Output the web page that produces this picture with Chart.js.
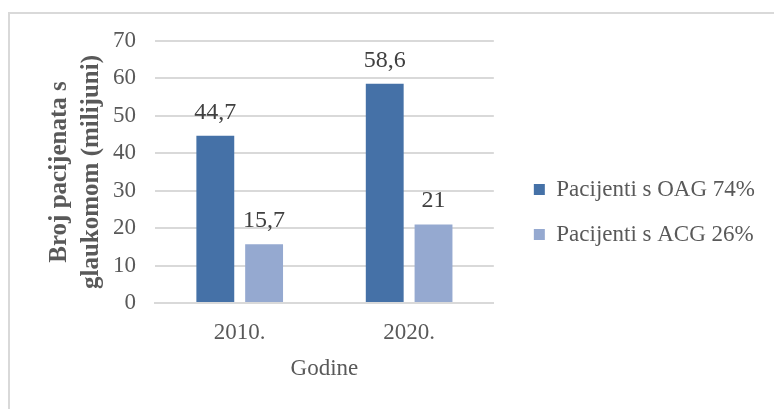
<!DOCTYPE html>
<html>
<head>
<meta charset="utf-8">
<script src="https://cdn.jsdelivr.net/npm/chart.js@4/dist/chart.umd.min.js"></script>
<style>
    html, body { margin: 0; padding: 0; background: #fff; }
    #wrap { position: relative; width: 774px; height: 409px; overflow: hidden; }
    #frame { position: absolute; left: 8px; top: 12px; width: 800px; height: 420px;
             border: 2px solid #d9d9d9; pointer-events: none; }
</style>
</head>
<body>
<div id="wrap">
    <canvas id="glaukomChart" width="774" height="409"></canvas>
    <div id="frame"></div>
</div>
<script>
const godine = ['2010.', '2020.'];
const oag = [44.7, 58.6];
const acg = [15.7, 21];
const nazivi = ['Pacijenti s OAG 74%', 'Pacijenti s ACG 26%'];
const yTicks = [0, 10, 20, 30, 40, 50, 60, 70];

const serif = "'Liberation Serif', 'Times New Roman', serif";
const textColor = '#595959';

// upisuje vrijednosti iznad stupaca
const valueLabels = {
    id: 'valueLabels',
    afterDatasetsDraw(chart) {
        const ctx = chart.ctx;
        ctx.save();
        ctx.font = '24px ' + serif;
        ctx.fillStyle = '#404040';
        ctx.textAlign = 'center';
        ctx.textBaseline = 'alphabetic';
        chart.data.datasets.forEach((ds, i) => {
            chart.getDatasetMeta(i).data.forEach((bar, j) => {
                const txt = String(ds.data[j]).replace('.', ',');
                ctx.fillText(txt, bar.x, bar.y - 17);
            });
        });
        ctx.restore();
    }
};

const data = {
    labels: godine,
    datasets: [
        {
            label: nazivi[0],
            data: oag,
            backgroundColor: '#4571a7',
            categoryPercentage: 0.576,
            barPercentage: 0.776
        },
        {
            label: nazivi[1],
            data: acg,
            backgroundColor: '#95a9d0',
            categoryPercentage: 0.576,
            barPercentage: 0.776
        }
    ]
};

const config = {
    type: 'bar',
    data: data,
    plugins: [valueLabels],
    options: {
        responsive: false,
        animation: false,
        layout: {
            padding: { left: 30, right: 9, top: 41, bottom: 26 }
        },
        plugins: {
            tooltip: { enabled: false },
            legend: {
                position: 'right',
                align: 'center',
                maxWidth: 300,
                labels: {
                    boxWidth: 11,
                    boxHeight: 11,
                    padding: 22,
                    color: textColor,
                    font: { family: serif, size: 23 }
                }
            }
        },
        scales: {
            x: {
                afterFit(scale) {
                    scale.height = 80;
                },
                grid: { display: false, drawTicks: false },
                border: { display: true, color: '#d9d9d9', width: 2 },
                ticks: {
                    color: textColor,
                    padding: 16,
                    font: { family: serif, size: 23 }
                },
                title: {
                    display: true,
                    text: 'Godine',
                    color: textColor,
                    padding: { top: 0, bottom: 0 },
                    font: { family: serif, size: 23 }
                }
            },
            y: {
                min: 0,
                max: 70,
                afterBuildTicks(scale) {
                    scale.ticks = yTicks.map(v => ({ value: v }));
                },
                afterFit(scale) {
                    scale.width = 125;
                },
                grid: { color: '#d9d9d9', lineWidth: 2, drawTicks: false },
                border: { display: false },
                ticks: {
                    color: textColor,
                    padding: 19,
                    font: { family: serif, size: 23 }
                },
                title: {
                    display: true,
                    text: ['Broj pacijenata s', 'glaukomom (milijuni)'],
                    color: textColor,
                    padding: { top: 14, bottom: 0 },
                    font: { family: serif, size: 25, weight: 'bold', lineHeight: 1.28 }
                }
            },
            // prazan razmak izmedu grafa i legende
            razmak: {
                type: 'linear',
                position: 'right',
                afterFit(scale) {
                    scale.width = 18;
                },
                grid: { display: false },
                border: { display: false },
                ticks: { display: false }
            }
        }
    }
};

var glaukomChart = new Chart(
    document.getElementById('glaukomChart'),
    config
);
</script>
</body>
</html>
